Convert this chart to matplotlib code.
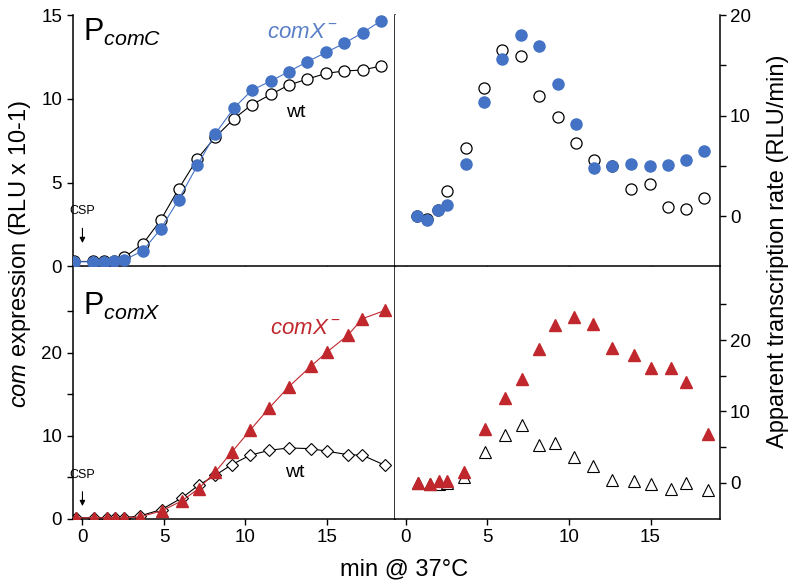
import numpy as np
import matplotlib.pyplot as plt
from matplotlib.ticker import MultipleLocator, FixedLocator

plt.rcParams['font.family'] = ['Liberation Sans', 'DejaVu Sans']
plt.rcParams['mathtext.fontset'] = 'custom'
plt.rcParams['mathtext.rm'] = 'Liberation Sans'
plt.rcParams['mathtext.it'] = 'Liberation Sans:italic'

# sampling times (min after CSP)
t_comC = [-0.5, 0.65, 1.3, 1.95, 2.55, 3.7, 4.8, 5.9, 7.05, 8.15, 9.3,
          10.4, 11.55, 12.65, 13.8, 14.95, 16.05, 17.2, 18.3]
t_comX = [-0.4, 0.72, 1.5, 2.0, 2.53, 3.54, 4.85, 6.1, 7.13, 8.15, 9.17,
          10.28, 11.47, 12.64, 14.0, 15.0, 16.27, 17.17, 18.55]

# PcomC expression (RLU x 10-1)
comC_mut = [0.28, 0.28, 0.28, 0.34, 0.38, 0.94, 2.24, 3.99, 6.03, 7.92, 9.46,
            10.52, 11.06, 11.62, 12.22, 12.77, 13.31, 13.95, 14.65]
comC_wt = [0.3, 0.3, 0.3, 0.32, 0.54, 1.34, 2.77, 4.63, 6.43, 7.72, 8.82,
           9.66, 10.26, 10.82, 11.18, 11.52, 11.66, 11.72, 11.96]
# PcomC apparent transcription rate (RLU/min)
rateC_mut = [0.0, -0.33, 0.57, 1.1, 5.17, 11.4, 15.67, 18.0, 16.93, 13.1,
             9.17, 4.83, 5.0, 5.17, 5.0, 5.1, 5.6, 6.5]
rateC_wt = [0.0, -0.3, 0.6, 2.5, 6.77, 12.77, 16.57, 15.9, 11.93, 9.83,
            7.27, 5.6, 5.0, 2.67, 3.17, 0.93, 0.67, 1.83]

# PcomX expression
comX_mut = [0.08, 0.08, 0.08, 0.08, 0.08, 0.2, 0.92, 2.13, 3.61, 5.62, 8.03,
            10.64, 13.37, 15.86, 18.35, 20.08, 22.09, 24.1, 25.1]
comX_wt = [0.08, 0.08, 0.08, 0.08, 0.08, 0.32, 1.08, 2.49, 4.02, 5.22, 6.51,
           7.63, 8.23, 8.51, 8.43, 8.11, 7.71, 7.63, 6.43]
# PcomX apparent transcription rate
rateX_mut = [0.0, -0.14, 0.23, 0.23, 1.49, 7.53, 11.86, 14.51, 18.74, 22.09,
             23.26, 22.19, 18.93, 17.86, 16.05, 16.14, 14.19, 6.88]
rateX_wt = [0.0, -0.14, -0.1, 0.0, 0.84, 4.28, 6.65, 8.05, 5.26, 5.58,
            3.63, 2.42, 0.37, 0.23, -0.23, -0.93, 0.0, -1.07]

blue = '#4472c4'
blue_txt = '#5b80c6'
red = '#c0282d'

fig = plt.figure(figsize=(7.96, 5.85), dpi=100)
W, H = 796, 585


def px_axes(x0, x1, y0, y1):
    return fig.add_axes([x0 / W, 1 - y1 / H, (x1 - x0) / W, (y1 - y0) / H])


ax1 = px_axes(72.5, 394.5, 15, 266.5)
ax2 = px_axes(394.5, 719.5, 15, 266.5)
ax3 = px_axes(72.5, 394.5, 266.5, 518.5)
ax4 = px_axes(394.5, 719.5, 266.5, 518.5)

for ax in (ax1, ax2, ax3, ax4):
    ax.spines['top'].set_visible(False)
    ax.tick_params(which='both', direction='out', length=4, width=1.0,
                   labelsize=13.5, colors='black')
    ax.xaxis.set_major_locator(MultipleLocator(5))
    for s in ax.spines.values():
        s.set_linewidth(1.1)

for ax in (ax1, ax3):
    ax.set_xlim(-0.61, 19.14)
for ax in (ax2, ax4):
    ax.set_xlim(-0.7, 19.23)
    ax.spines['left'].set_visible(False)
    ax.yaxis.tick_right()
for ax in (ax1, ax2):
    ax.tick_params(axis='x', labelbottom=False)

# top left: PcomC expression
ax1.plot(t_comC, comC_wt, '-o', color='black', lw=0.8, ms=8,
         mfc='white', mec='black', mew=0.9, zorder=2)
ax1.plot(t_comC, comC_mut, '-o', color=blue, lw=0.8, ms=8,
         mfc=blue, mec=blue, zorder=3)
ax1.set_ylim(0, 15)
ax1.yaxis.set_major_locator(MultipleLocator(5))
ax1.text(0.05, 13.45, r'P$_{comC}$', fontsize=22)
ax1.text(11.3, 13.6, r'$comX^{\rm -}$', fontsize=16, color=blue_txt)
ax1.text(13.07, 9.2, 'wt', fontsize=14, ha='center', va='center')
ax1.annotate('CSP', xy=(0, 1.4), xytext=(0, 3.3), ha='center', va='center',
             fontsize=9,
             arrowprops=dict(arrowstyle='-|>', color='black', lw=0.8,
                             shrinkA=6, shrinkB=0, mutation_scale=8))

# top right: PcomC rate
ax2.plot(t_comC[1:], rateC_wt, 'o', ms=8, mfc='white', mec='black',
         mew=0.9, ls='none', zorder=2)
ax2.plot(t_comC[1:], rateC_mut, 'o', ms=8, mfc=blue, mec=blue,
         ls='none', zorder=3)
ax2.set_ylim(-5, 20)
ax2.yaxis.set_major_locator(FixedLocator([0, 10, 20]))
ax2.yaxis.set_minor_locator(FixedLocator([5, 15]))

# bottom left: PcomX expression
ax3.plot(t_comX, comX_wt, '-D', color='black', lw=0.8, ms=6,
         mfc='white', mec='black', mew=0.8, zorder=2)
ax3.plot(t_comX, comX_mut, '-^', color=red, lw=0.8, ms=8,
         mfc=red, mec=red, zorder=3)
ax3.set_ylim(0, 30.4)
ax3.yaxis.set_major_locator(FixedLocator([0, 10, 20]))
ax3.yaxis.set_minor_locator(FixedLocator([5, 15, 25]))
ax3.text(0.05, 24.6, r'P$_{comX}$', fontsize=22)
ax3.text(11.5, 22.3, r'$comX^{\rm -}$', fontsize=16, color=red)
ax3.text(13.04, 5.5, 'wt', fontsize=14, ha='center', va='center')
ax3.annotate('CSP', xy=(0, 1.5), xytext=(0, 5.3), ha='center', va='center',
             fontsize=9,
             arrowprops=dict(arrowstyle='-|>', color='black', lw=0.8,
                             shrinkA=6, shrinkB=0, mutation_scale=8))

# bottom right: PcomX rate
ax4.plot(t_comX[1:], rateX_wt, '^', ms=8, mfc='white', mec='black',
         mew=0.8, ls='none', zorder=2)
ax4.plot(t_comX[1:], rateX_mut, '^', ms=8, mfc=red, mec=red,
         ls='none', zorder=3)
ax4.set_ylim(-5, 30.3)
ax4.yaxis.set_major_locator(FixedLocator([0, 10, 20]))
ax4.yaxis.set_minor_locator(FixedLocator([5, 15, 25]))

fig.text(0.025, 0.565, r'$com$ expression (RLU x 10-1)', rotation=90,
         ha='center', va='center', fontsize=17)
fig.text(0.978, 0.570, 'Apparent transcription rate (RLU/min)', rotation=90,
         ha='center', va='center', fontsize=17)
fig.text(0.507, 0.027, 'min @ 37°C', ha='center', va='center', fontsize=17)

fig.savefig('out.png', dpi=100)
